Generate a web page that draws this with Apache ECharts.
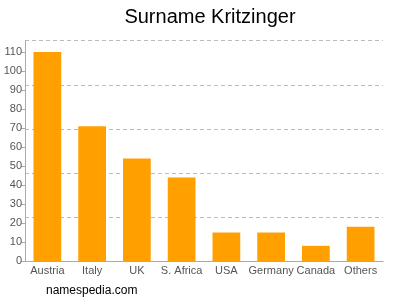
<!DOCTYPE html>
<html>
<head>
<meta charset="utf-8">
<script src="https://cdn.jsdelivr.net/npm/echarts@6/dist/echarts.min.js"></script>
<style>
  html, body { margin: 0; padding: 0; background: #fff; }
  #chart { width: 400px; height: 300px; }
</style>
</head>
<body>
<div id="chart"></div>
<script>
const countries = ['Austria', 'Italy', 'UK', 'S. Africa', 'USA', 'Germany', 'Canada', 'Others'];
const counts = [110, 71, 54, 44, 15, 15, 8, 18];
const yMax = 116;

const myChart = echarts.init(document.getElementById('chart'));

const option = {
  animation: false,
  title: {
    text: 'Surname Kritzinger',
    left: 205,
    textAlign: 'center',
    top: 2,
    textStyle: {
      fontFamily: 'Liberation Sans',
      fontSize: 20,
      fontWeight: 'normal',
      color: '#000'
    }
  },
  graphic: [
    {
      type: 'text',
      left: 46,
      top: 285,
      style: {
        text: 'namespedia.com',
        font: '12px "Liberation Sans"',
        fill: '#000'
      }
    }
  ],
  grid: {
    left: 25,
    right: 17,
    top: 40.7,
    bottom: 39
  },
  xAxis: {
    type: 'category',
    data: countries,
    axisLine: { lineStyle: { color: '#aaa' } },
    axisTick: { alignWithLabel: true, length: 4, lineStyle: { color: '#aaa' } },
    axisLabel: {
      color: '#555',
      fontFamily: 'Liberation Sans',
      fontSize: 11,
      margin: 4,
      interval: 0
    }
  },
  yAxis: [
    {
      type: 'value',
      min: 0,
      max: yMax,
      interval: 10,
      axisLine: { show: true, lineStyle: { color: '#aaa' } },
      axisTick: { show: true, length: 4, lineStyle: { color: '#aaa' } },
      axisLabel: {
        color: '#555',
        fontFamily: 'Liberation Sans',
        fontSize: 11,
        margin: 3,
        showMaxLabel: false
      },
      splitLine: { show: false }
    },
    {
      type: 'value',
      min: 0,
      max: yMax,
      interval: yMax / 5,
      position: 'left',
      axisLine: { show: false },
      axisTick: { show: false },
      axisLabel: { show: false },
      splitLine: {
        show: true,
        lineStyle: { color: '#bbb', type: [4, 3], width: 1 }
      }
    }
  ],
  series: [
    {
      type: 'bar',
      data: counts,
      barWidth: '62%',
      itemStyle: { color: '#ffa000' }
    }
  ]
};

myChart.setOption(option);

window.addEventListener('resize', function () {
  myChart.resize();
});
</script>
</body>
</html>
